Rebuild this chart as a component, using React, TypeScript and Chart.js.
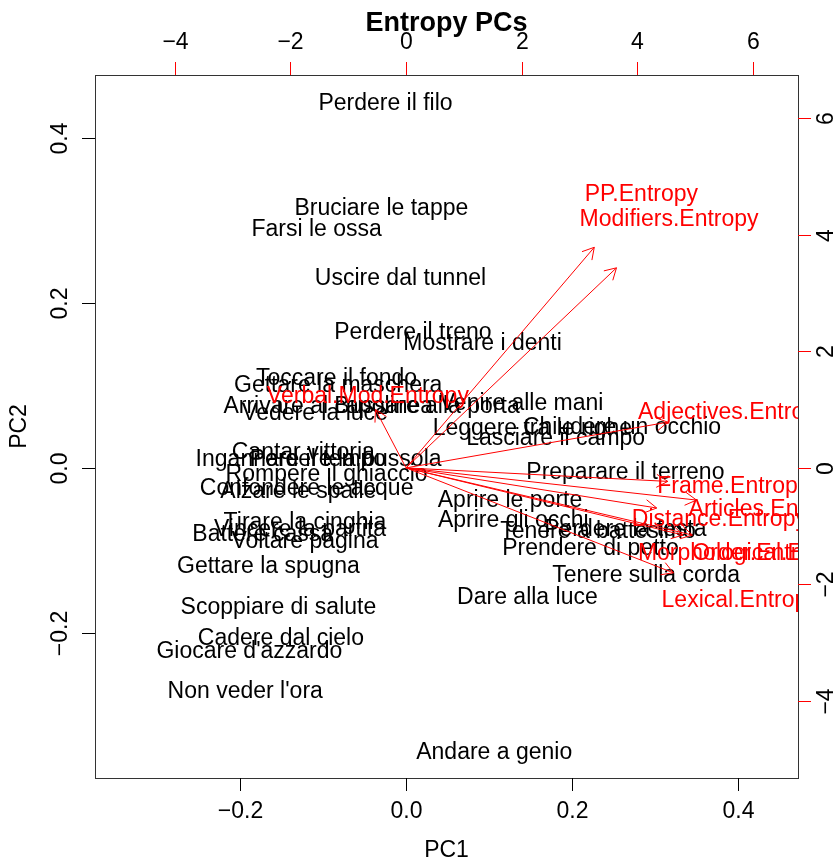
import { useEffect, useRef } from "react";
import { Chart, registerables } from "chart.js";

Chart.register(...registerables);

// ---- Observations (phrases) : scores on PC1 / PC2 ----
const PHRASES = [
  "Perdere il filo",
  "Bruciare le tappe",
  "Farsi le ossa",
  "Uscire dal tunnel",
  "Perdere il treno",
  "Mostrare i denti",
  "Toccare il fondo",
  "Gettare la maschera",
  "Arrivare al capolinea",
  "Bussare alla porta",
  "Vedere la luce",
  "Venire alle mani",
  "Leggere tra le righe",
  "Chiudere un occhio",
  "Lasciare il campo",
  "Cantar vittoria",
  "Ingannare il tempo",
  "Perdere la bussola",
  "Rompere il ghiaccio",
  "Confondere le acque",
  "Alzare le spalle",
  "Tirare la cinghia",
  "Vincere la partita",
  "Battere cassa",
  "Voltare pagina",
  "Gettare la spugna",
  "Scoppiare di salute",
  "Cadere dal cielo",
  "Giocare d'azzardo",
  "Non veder l'ora",
  "Andare a genio",
  "Aprire le porte",
  "Aprire gli occhi",
  "Preparare il terreno",
  "Tenere a battesimo",
  "Perdere la testa",
  "Prendere di petto",
  "Tenere sulla corda",
  "Dare alla luce",
];

const PC1 = [
  -0.025, -0.03, -0.108, -0.007, 0.008, 0.092, -0.084, -0.082, -0.094, 0.025,
  -0.11, 0.139, 0.152, 0.26, 0.18, -0.124, -0.139, -0.073, -0.096, -0.12,
  -0.13, -0.122, -0.128, -0.173, -0.122, -0.166, -0.154, -0.151, -0.189, -0.194,
  0.106, 0.125, 0.129, 0.264, 0.231, 0.264, 0.222, 0.289, 0.146,
];

const PC2 = [
  0.444, 0.316, 0.291, 0.232, 0.166, 0.153, 0.11, 0.102, 0.076, 0.076,
  0.068, 0.08, 0.05, 0.051, 0.038, 0.021, 0.012, 0.012, -0.006, -0.023,
  -0.027, -0.064, -0.073, -0.079, -0.087, -0.118, -0.167, -0.205, -0.221, -0.269,
  -0.343, -0.038, -0.062, -0.004, -0.075, -0.072, -0.096, -0.128, -0.155,
];

// ---- Variables (loadings, top / right axes) ----
const VARIABLES = [
  "PP.Entropy",
  "Modifiers.Entropy",
  "Verbal.Mod.Entropy",
  "Adjectives.Entropy",
  "Frame.Entropy",
  "Articles.Entropy",
  "Distance.Entropy",
  "Morphological.Entropy",
  "Order.Entropy",
  "Lexical.Entropy",
];

const LOAD1 = [4.07, 4.55, -0.66, 5.66, 5.66, 6.28, 5.42, 5.99, 6.19, 5.78];
const LOAD2 = [4.73, 4.29, 1.25, 0.98, -0.29, -0.69, -0.86, -1.44, -1.44, -2.25];

// biplot convention: arrows drawn to 80% of the loading, labels at the loading
const ARROW_SHRINK = 0.8;

// ---- Axes ----
const BOTTOM_TICKS = [-0.2, 0, 0.2, 0.4];
const BOTTOM_TICK_LABELS = ["\u22120.2", "0.0", "0.2", "0.4"];
const LEFT_TICKS = [-0.2, 0, 0.2, 0.4];
const LEFT_TICK_LABELS = ["\u22120.2", "0.0", "0.2", "0.4"];
const TOP_TICKS = [-4, -2, 0, 2, 4, 6];
const TOP_TICK_LABELS = ["\u22124", "\u22122", "0", "2", "4", "6"];
const RIGHT_TICKS = [-4, -2, 0, 2, 4, 6];
const RIGHT_TICK_LABELS = ["\u22124", "\u22122", "0", "2", "4", "6"];

const TITLE = "Entropy PCs";
const X_TITLE = "PC1";
const Y_TITLE = "PC2";

const FONT = '"Liberation Sans", Arial, Helvetica, sans-serif';
const RED = "#ff0000";
const TEXT_DY = 2;

const biplotPlugin = {
  id: "biplotText",
  beforeDatasetsDraw(chart: any) {
    const { ctx, chartArea: ca } = chart;
    const meta = chart.getDatasetMeta(0);
    ctx.save();
    ctx.beginPath();
    ctx.rect(ca.left, ca.top, ca.right - ca.left, ca.bottom - ca.top);
    ctx.clip();
    ctx.font = `23px ${FONT}`;
    ctx.fillStyle = "#000";
    ctx.textAlign = "center";
    ctx.textBaseline = "middle";
    meta.data.forEach((el: any, i: number) => {
      ctx.fillText(PHRASES[i], el.x, el.y + TEXT_DY);
    });
    ctx.restore();
  },
  afterDatasetsDraw(chart: any) {
    const { ctx, chartArea: ca } = chart;
    const sx = chart.scales.x2;
    const sy = chart.scales.y2;
    ctx.save();
    ctx.beginPath();
    ctx.rect(ca.left, ca.top, ca.right - ca.left, ca.bottom - ca.top);
    ctx.clip();
    // arrow heads
    ctx.strokeStyle = RED;
    ctx.lineWidth = 1;
    VARIABLES.forEach((_, i) => {
      const meta = chart.getDatasetMeta(i + 1);
      const p0 = meta.data[0];
      const p1 = meta.data[1];
      const ang = Math.atan2(p1.y - p0.y, p1.x - p0.x);
      const len = 13;
      const spread = Math.PI / 6;
      ctx.beginPath();
      ctx.moveTo(p1.x - len * Math.cos(ang - spread), p1.y - len * Math.sin(ang - spread));
      ctx.lineTo(p1.x, p1.y);
      ctx.lineTo(p1.x - len * Math.cos(ang + spread), p1.y - len * Math.sin(ang + spread));
      ctx.stroke();
    });
    // variable labels
    ctx.font = `23px ${FONT}`;
    ctx.fillStyle = RED;
    ctx.textAlign = "center";
    ctx.textBaseline = "middle";
    VARIABLES.forEach((name, i) => {
      ctx.fillText(name, sx.getPixelForValue(LOAD1[i]), sy.getPixelForValue(LOAD2[i]) + TEXT_DY);
    });
    ctx.restore();
  },
  afterDraw(chart: any) {
    const { ctx, chartArea: ca } = chart;
    const { x, y, x2, y2 } = chart.scales;
    const tl = 13;
    ctx.save();
    // box
    ctx.strokeStyle = "#333";
    ctx.lineWidth = 1;
    ctx.strokeRect(Math.round(ca.left) + 0.5, Math.round(ca.top) + 0.5, Math.round(ca.right - ca.left), Math.round(ca.bottom - ca.top));

    const line = (x0: number, y0: number, x1: number, y1: number, c: string) => {
      ctx.strokeStyle = c;
      ctx.beginPath();
      ctx.moveTo(x0, y0);
      ctx.lineTo(x1, y1);
      ctx.stroke();
    };

    ctx.font = `23px ${FONT}`;
    ctx.fillStyle = "#000";
    ctx.textAlign = "center";
    ctx.textBaseline = "middle";

    // bottom axis
    BOTTOM_TICKS.forEach((v, i) => {
      const px = Math.round(x.getPixelForValue(v)) + 0.5;
      line(px, ca.bottom, px, ca.bottom + tl, "#000");
      ctx.fillText(BOTTOM_TICK_LABELS[i], px, ca.bottom + 34);
    });
    // top axis
    TOP_TICKS.forEach((v, i) => {
      const px = Math.round(x2.getPixelForValue(v)) + 0.5;
      line(px, ca.top, px, ca.top - tl, RED);
      ctx.fillText(TOP_TICK_LABELS[i], px, ca.top - 32);
    });
    // left axis
    LEFT_TICKS.forEach((v, i) => {
      const py = Math.round(y.getPixelForValue(v)) + 0.5;
      line(ca.left, py, ca.left - tl, py, "#000");
      ctx.save();
      ctx.translate(ca.left - 34, py);
      ctx.rotate(-Math.PI / 2);
      ctx.fillText(LEFT_TICK_LABELS[i], 0, 0);
      ctx.restore();
    });
    // right axis
    RIGHT_TICKS.forEach((v, i) => {
      const py = Math.round(y2.getPixelForValue(v)) + 0.5;
      line(ca.right, py, ca.right + tl, py, RED);
      ctx.save();
      ctx.translate(ca.right + 29, py);
      ctx.rotate(-Math.PI / 2);
      ctx.fillText(RIGHT_TICK_LABELS[i], 0, 0);
      ctx.restore();
    });

    const cx = (ca.left + ca.right) / 2;
    const cy = (ca.top + ca.bottom) / 2;
    ctx.fillText(X_TITLE, cx, ca.bottom + 73);
    ctx.save();
    ctx.translate(ca.left - 75, cy);
    ctx.rotate(-Math.PI / 2);
    ctx.fillText(Y_TITLE, 0, 0);
    ctx.restore();

    ctx.font = `bold 27px ${FONT}`;
    ctx.fillText(TITLE, cx, 24);
    ctx.restore();
  },
};

export default function App() {
  const ref = useRef<HTMLCanvasElement | null>(null);

  useEffect(() => {
    const canvas = ref.current;
    if (!canvas) return;

    const pointData = PC1.map((v, i) => ({ x: v, y: PC2[i] }));
    const arrowSets = VARIABLES.map((name, i) => ({
      label: name,
      type: "scatter" as const,
      data: [
        { x: 0, y: 0 },
        { x: LOAD1[i] * ARROW_SHRINK, y: LOAD2[i] * ARROW_SHRINK },
      ],
      xAxisID: "x2",
      yAxisID: "y2",
      showLine: true,
      borderColor: RED,
      borderWidth: 1,
      pointRadius: 0,
      pointHoverRadius: 0,
      fill: false,
    }));

    const chart = new Chart(canvas, {
      type: "scatter",
      data: {
        datasets: [
          {
            label: "scores",
            data: pointData,
            xAxisID: "x",
            yAxisID: "y",
            pointRadius: 0,
            pointHoverRadius: 0,
          },
          ...arrowSets,
        ],
      } as any,
      options: {
        responsive: false,
        animation: false,
        devicePixelRatio: 1,
        events: [],
        layout: { padding: { left: 95, right: 37, top: 75, bottom: 83 } },
        plugins: {
          legend: { display: false },
          tooltip: { enabled: false },
          title: { display: false },
        },
        scales: {
          x: { type: "linear", position: "bottom", min: -0.375, max: 0.472, display: false },
          y: { type: "linear", position: "left", min: -0.376, max: 0.476, display: false },
          x2: { type: "linear", position: "top", min: -5.38, max: 6.78, display: false },
          y2: { type: "linear", position: "right", min: -5.32, max: 6.74, display: false },
        },
      } as any,
      plugins: [biplotPlugin],
    });

    return () => chart.destroy();
  }, []);

  return (
    <div style={{ position: "fixed", left: 0, top: 0, width: 835, height: 861, background: "#fff" }}>
      <canvas ref={ref} width={835} height={861} style={{ width: 835, height: 861, display: "block" }} />
    </div>
  );
}
